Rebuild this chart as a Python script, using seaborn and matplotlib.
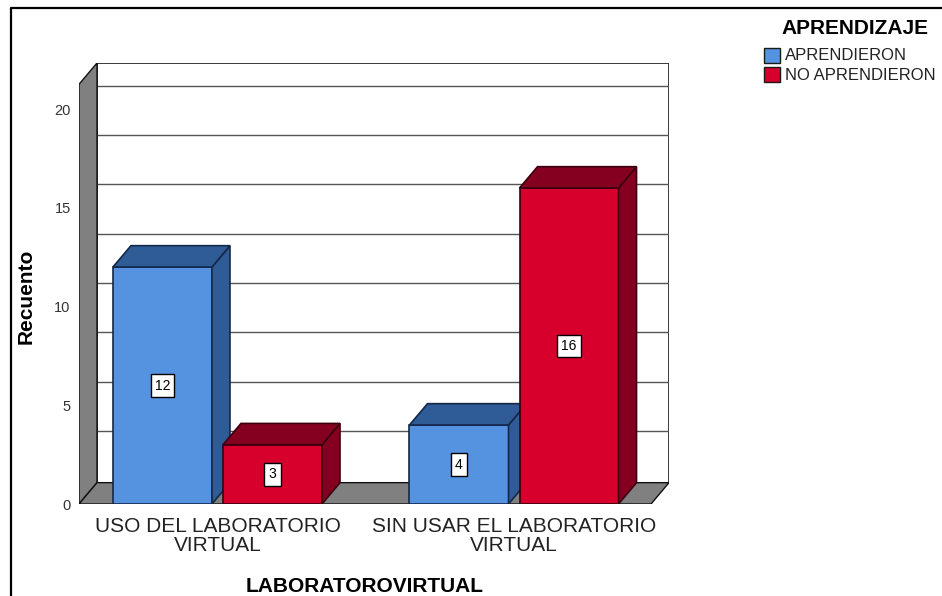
import matplotlib
matplotlib.use("Agg")
import matplotlib.pyplot as plt
from matplotlib.patches import Polygon, Rectangle
from matplotlib.lines import Line2D
import seaborn as sns
import pandas as pd

# Data
grupos = ["USO DEL LABORATORIO\nVIRTUAL", "SIN USAR EL LABORATORIO\nVIRTUAL"]
niveles = ["APRENDIERON", "NO APRENDIERON"]
aprendieron = [12, 4]
no_aprendieron = [3, 16]
yticks = [0, 5, 10, 15, 20]

df = pd.DataFrame({
    "LABORATOROVIRTUAL": grupos * 2,
    "Recuento": aprendieron + no_aprendieron,
    "APRENDIZAJE": [niveles[0]] * len(grupos) + [niveles[1]] * len(grupos),
})

front_col = {"APRENDIERON": "#5592E0", "NO APRENDIERON": "#D7002D"}
dark_col = {"APRENDIERON": "#2F5B97", "NO APRENDIERON": "#850020"}
edge_col = {"APRENDIERON": "#14284A", "NO APRENDIERON": "#3A0010"}

sns.set_theme(style="white")
plt.rcParams["font.family"] = ["Liberation Sans", "DejaVu Sans"]

W, H = 942, 596
fig = plt.figure(figsize=(W / 100, H / 100), dpi=100)


def fx(px):
    return px / W


def fy(py):
    return 1 - py / H


ax = fig.add_axes([fx(79), fy(504), (669 - 79) / W, (504 - 63) / H])

sns.barplot(data=df, x="LABORATOROVIRTUAL", y="Recuento", hue="APRENDIZAJE",
            hue_order=niveles, palette=[front_col[n] for n in niveles],
            width=0.742, gap=0.1, legend=False, saturation=1,
            linewidth=1.2, ax=ax)

# bars drawn by seaborn, tagged with their hue level
bars = []
for nivel, cont in zip(niveles, ax.containers):
    for b in cont:
        bars.append((b, nivel))
bars.sort(key=lambda t: t[0].get_x())

# 3D box geometry (front plane + depth offset)
x0, x1 = -0.467, 1.462
ytop = 21.25
dx, dy = 0.0607, 1.08
ax.set_xlim(x0, x1 + dx)
ax.set_ylim(0, ytop + dy)

# back wall, gridlines, left wall and floor
ax.add_patch(Rectangle((x0 + dx, dy), x1 - x0, ytop, facecolor="white",
                       edgecolor="#3a3a3a", lw=1.4, zorder=0.5))
for g in [2.5 * k for k in range(1, 9)]:
    ax.plot([x0 + dx, x1 + dx], [g + dy * 1.1, g + dy * 1.1], color="#555555",
            lw=1.0, zorder=0.6)
ax.add_patch(Polygon([(x0, 0), (x0, ytop), (x0 + dx, ytop + dy), (x0 + dx, dy)],
                     closed=True, facecolor="#808080", edgecolor="#111111",
                     lw=1.0, zorder=0.7))
ax.add_patch(Polygon([(x0, 0), (x1, 0), (x1 + dx, dy), (x0 + dx, dy)],
                     closed=True, facecolor="#808080", edgecolor="#111111",
                     lw=1.0, zorder=0.7))

# extrude each bar: side and top faces, plus value label
for i, (b, nivel) in enumerate(bars):
    x, w, h = b.get_x(), b.get_width(), b.get_height()
    z = 2 + i
    b.set_zorder(z)
    b.set_edgecolor(edge_col[nivel])
    side = Polygon([(x + w, 0), (x + w, h), (x + w + dx, h + dy), (x + w + dx, dy)],
                   closed=True, facecolor=dark_col[nivel],
                   edgecolor=edge_col[nivel], lw=1.2, zorder=z)
    top = Polygon([(x, h), (x + dx, h + dy), (x + w + dx, h + dy), (x + w, h)],
                  closed=True, facecolor=dark_col[nivel],
                  edgecolor=edge_col[nivel], lw=1.2, zorder=z)
    ax.add_patch(side)
    ax.add_patch(top)
    ax.text(x + w / 2, h / 2, f"{h:g}", ha="center", va="center", fontsize=10,
            color="black", zorder=z + 0.5,
            bbox=dict(boxstyle="square,pad=0.3", fc="white", ec="black", lw=1))

for s in ax.spines.values():
    s.set_visible(False)
ax.set_facecolor("none")
ax.set_yticks(yticks)
ax.set_yticklabels([str(t) for t in yticks])
ax.tick_params(axis="y", length=0, pad=6, labelsize=10.5, labelcolor="#333333")
ax.set_xticks(range(len(grupos)))
ax.set_xticklabels(grupos, fontsize=15, color="#222222", linespacing=1.02)
ax.tick_params(axis="x", length=0, pad=9)
ax.set_xlabel("")
ax.set_ylabel("")

# axis titles
fig.text(fx(26), fy(296), "Recuento", rotation=90, ha="center", va="center",
         fontsize=15, fontweight="bold", color="black")
fig.text(fx(365), fy(587), "LABORATOROVIRTUAL", ha="center", va="center",
         fontsize=15, fontweight="bold", color="black")

# legend
fig.text(fx(855), fy(29), "APRENDIZAJE", ha="center", va="center",
         fontsize=15, fontweight="bold", color="black")
for n, yc in zip(niveles, [56, 75]):
    fig.add_artist(Rectangle((fx(764), fy(yc + 7)), 16 / W, 15 / H,
                             transform=fig.transFigure, facecolor=front_col[n],
                             edgecolor="#1a1a1a", lw=1))
    fig.text(fx(785), fy(yc), n, ha="left", va="center", fontsize=12,
             color="#222222")

# frame
fig.add_artist(Line2D([fx(11), fx(11), fx(W + 5)], [fy(H + 5), fy(8), fy(8)],
                      transform=fig.transFigure, color="black", lw=1.6))

fig.savefig("out.png", dpi=100)
